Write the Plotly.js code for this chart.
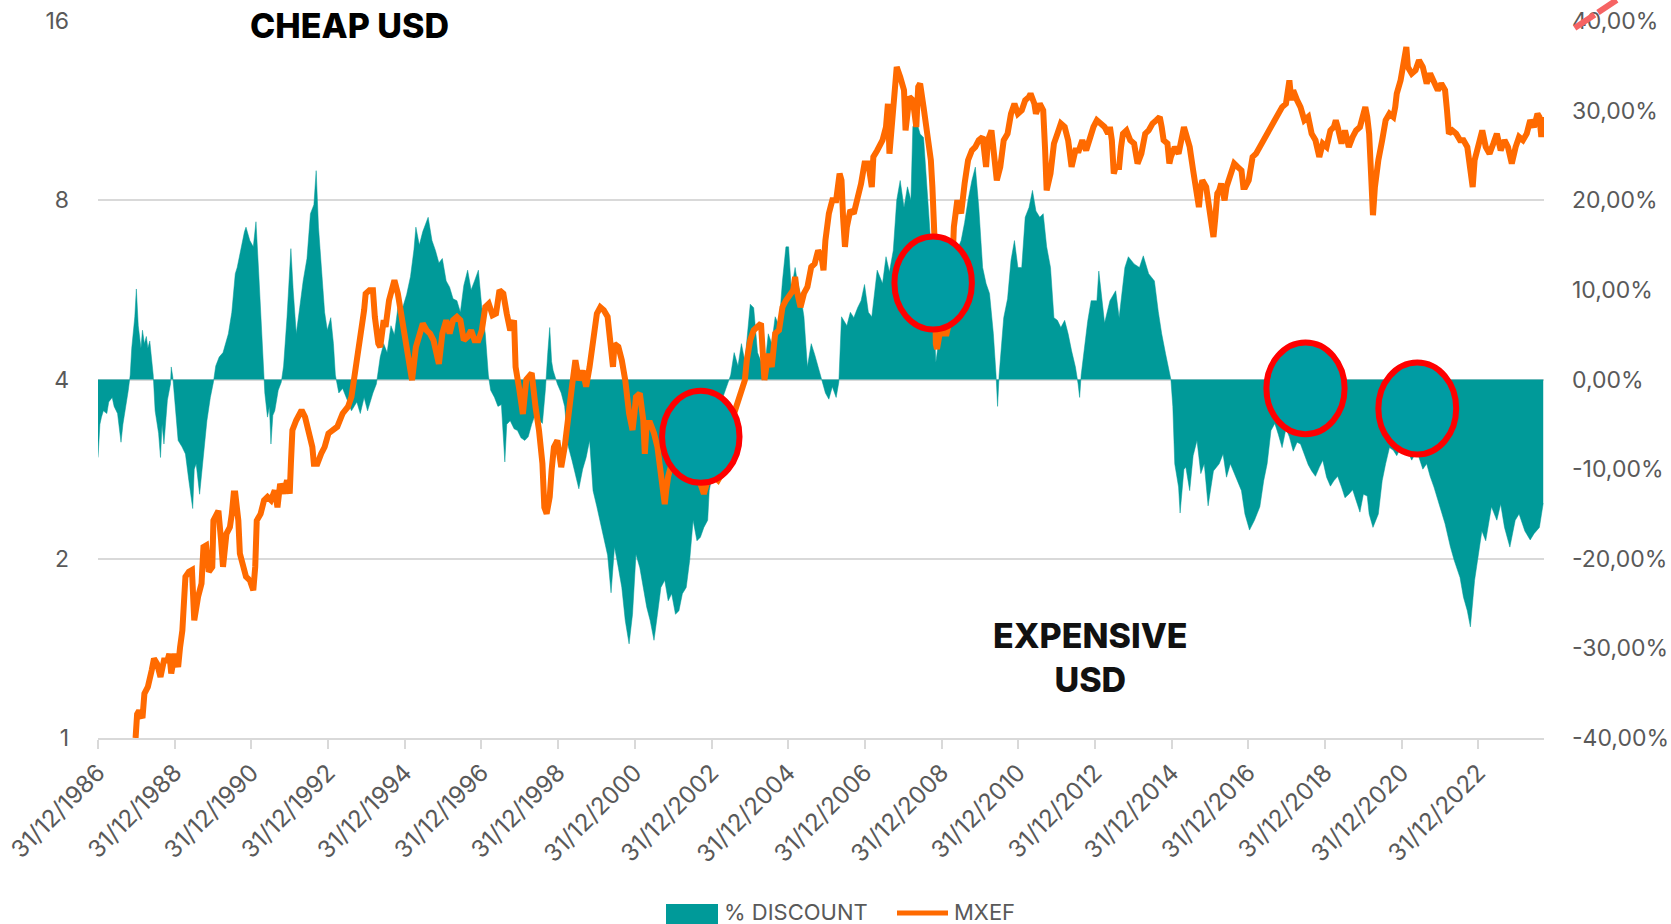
<!DOCTYPE html>
<html>
<head>
<meta charset="utf-8">
<script src="https://cdn.plot.ly/plotly-3.0.1.min.js"></script>
<style>html,body{margin:0;padding:0;background:#fff;}#chart{width:1671px;height:924px;}</style>
</head>
<body>
<div id="chart"></div>
<script>
// ---- Tick labels ----
const xTickYears = [1987,1989,1991,1993,1995,1997,1999,2001,2003,2005,2007,2009,2011,2013,2015,2017,2019,2021,2023];
const xTickLabels = ["31/12/1986","31/12/1988","31/12/1990","31/12/1992","31/12/1994","31/12/1996","31/12/1998","31/12/2000","31/12/2002","31/12/2004","31/12/2006","31/12/2008","31/12/2010","31/12/2012","31/12/2014","31/12/2016","31/12/2018","31/12/2020","31/12/2022"];
const leftTicks = [1,2,4,8,16];
const leftTickLabels = ["1","2","4","8","16"];
const rightTicks = [40,30,20,10,0,-10,-20,-30,-40];
const rightTickLabels = ["40,00%","30,00%","20,00%","10,00%","0,00%","-10,00%","-20,00%","-30,00%","-40,00%"];
const seriesNames = ["% DISCOUNT", "MXEF"];

// ---- % DISCOUNT (right axis, %) ----
const discountYears = [
1987.00,1987.05,1987.09,1987.14,1987.23,1987.28,1987.37,1987.42,1987.51,1987.60,1987.65,1987.70,1987.74,1987.79,1987.84,1987.88,1987.96,1988.00,1988.05,1988.12,
1988.16,1988.21,1988.26,1988.30,1988.35,1988.40,1988.44,1988.49,1988.58,1988.63,1988.67,1988.72,1988.81,1988.89,1988.91,1988.95,1989.00,1989.09,1989.19,1989.28,
1989.37,1989.47,1989.51,1989.56,1989.65,1989.75,1989.84,1989.93,1990.01,1990.07,1990.16,1990.26,1990.40,1990.49,1990.58,1990.63,1990.72,1990.82,1990.86,1990.96,
1991.05,1991.12,1991.19,1991.25,1991.31,1991.35,1991.42,1991.47,1991.51,1991.56,1991.61,1991.70,1991.78,1991.84,1991.93,1992.03,1992.09,1992.17,1992.26,1992.35,
1992.45,1992.54,1992.63,1992.69,1992.75,1992.82,1992.91,1992.98,1993.07,1993.14,1993.19,1993.28,1993.38,1993.52,1993.61,1993.75,1993.84,1993.94,1994.03,1994.17,
1994.26,1994.36,1994.45,1994.54,1994.64,1994.73,1994.82,1994.91,1995.05,1995.15,1995.24,1995.29,1995.38,1995.47,1995.57,1995.61,1995.71,1995.80,1995.89,1995.98,
1996.08,1996.17,1996.26,1996.36,1996.45,1996.54,1996.64,1996.73,1996.82,1996.92,1997.01,1997.10,1997.18,1997.24,1997.34,1997.43,1997.52,1997.61,1997.66,1997.75,
1997.85,1997.94,1998.03,1998.13,1998.22,1998.31,1998.41,1998.50,1998.59,1998.67,1998.73,1998.78,1998.83,1998.87,1998.98,1999.08,1999.17,1999.26,1999.36,1999.45,
1999.54,1999.64,1999.73,1999.82,1999.91,2000.01,2000.10,2000.19,2000.29,2000.38,2000.47,2000.57,2000.66,2000.75,2000.85,2000.94,2001.03,2001.13,2001.22,2001.31,
2001.40,2001.50,2001.59,2001.68,2001.78,2001.87,2001.96,2002.06,2002.15,2002.24,2002.34,2002.43,2002.52,2002.62,2002.71,2002.80,2002.90,2002.94,2002.99,2003.08,
2003.17,2003.27,2003.36,2003.45,2003.50,2003.59,2003.69,2003.78,2003.87,2004.01,2004.10,2004.20,2004.29,2004.38,2004.48,2004.57,2004.66,2004.76,2004.85,2004.94,
2005.01,2005.08,2005.18,2005.22,2005.32,2005.36,2005.41,2005.50,2005.60,2005.69,2005.78,2005.87,2005.97,2006.06,2006.15,2006.25,2006.32,2006.39,2006.53,2006.62,
2006.71,2006.81,2006.90,2006.99,2007.09,2007.18,2007.32,2007.46,2007.55,2007.64,2007.74,2007.83,2007.92,2008.02,2008.11,2008.20,2008.25,2008.34,2008.44,2008.53,
2008.62,2008.72,2008.79,2008.85,2008.95,2009.04,2009.13,2009.23,2009.32,2009.41,2009.51,2009.60,2009.69,2009.79,2009.88,2009.97,2010.07,2010.16,2010.25,2010.35,
2010.42,2010.46,2010.50,2010.62,2010.72,2010.81,2010.90,2010.99,2011.09,2011.18,2011.28,2011.37,2011.46,2011.56,2011.65,2011.74,2011.84,2011.93,2012.02,2012.11,
2012.21,2012.30,2012.39,2012.49,2012.56,2012.60,2012.64,2012.72,2012.81,2012.90,2013.05,2013.10,2013.25,2013.39,2013.54,2013.63,2013.78,2013.87,2014.02,2014.16,
2014.26,2014.40,2014.55,2014.65,2014.74,2014.84,2014.94,2014.98,2015.03,2015.08,2015.18,2015.22,2015.32,2015.37,2015.47,2015.56,2015.66,2015.76,2015.85,2015.95,
2016.09,2016.24,2016.34,2016.43,2016.53,2016.67,2016.82,2016.91,2017.03,2017.16,2017.30,2017.40,2017.49,2017.59,2017.69,2017.78,2017.88,2017.98,2018.07,2018.17,
2018.27,2018.36,2018.46,2018.56,2018.65,2018.75,2018.85,2018.94,2019.04,2019.14,2019.23,2019.33,2019.43,2019.52,2019.62,2019.72,2019.81,2019.91,2020.00,2020.10,
2020.15,2020.25,2020.39,2020.49,2020.58,2020.68,2020.78,2020.87,2020.97,2021.07,2021.26,2021.36,2021.45,2021.55,2021.65,2021.74,2021.84,2021.99,2022.13,2022.27,
2022.37,2022.52,2022.61,2022.71,2022.79,2022.90,2023.00,2023.09,2023.19,2023.34,2023.48,2023.58,2023.68,2023.82,2023.96,2024.06,2024.21,2024.35,2024.45,2024.59,
2024.69];
const discountValues = [
-8.7,-5.0,-4.2,-3.5,-3.8,-2.5,-2.0,-3.0,-3.8,-7.0,-5.0,-3.8,-2.5,-1.2,0.5,3.5,7.0,10.1,6.0,3.5,
5.5,4.0,4.8,3.5,4.3,2.5,0.5,-3.5,-6.0,-8.7,-5.0,-7.2,-2.3,-0.5,1.4,0.3,-2.3,-6.8,-7.5,-8.3,
-11.3,-14.4,-10.0,-9.4,-12.8,-8.3,-4.6,-2.0,-0.3,1.5,2.5,3.0,5.1,7.5,11.8,12.5,14.5,16.5,17.0,15.5,
14.8,17.6,12.0,7.0,1.5,-1.5,-4.2,-3.0,-7.2,-4.0,-3.5,-1.2,-0.3,1.5,7.0,14.6,10.0,5.1,8.0,11.0,
13.5,18.5,19.5,23.3,17.0,13.0,7.5,5.5,6.9,4.0,0.5,-1.5,-1.0,-2.5,-3.5,-2.5,-3.8,-2.0,-3.5,-1.5,
-0.5,2.5,4.0,3.0,6.0,5.0,8.0,7.5,9.5,11.5,14.5,17.0,15.0,16.5,17.5,18.1,15.5,14.4,13.0,13.5,
11.0,10.3,9.0,8.8,7.5,10.5,12.2,10.0,11.0,12.2,8.0,5.1,0.5,-1.2,-2.0,-3.0,-2.8,-9.2,-5.0,-4.6,
-5.5,-5.7,-6.5,-6.8,-6.4,-5.0,-3.8,-4.5,-4.9,-1.0,3.0,5.8,2.0,1.0,-0.5,-1.5,-3.0,-7.4,-9.0,-10.7,
-12.2,-10.0,-8.7,-6.8,-12.4,-14.2,-16.0,-17.8,-19.6,-23.8,-18.7,-21.0,-23.2,-26.9,-29.5,-26.2,-19.5,-21.0,-23.2,-25.4,
-26.9,-29.1,-26.2,-23.2,-22.4,-24.7,-23.9,-26.2,-25.8,-23.9,-23.2,-20.2,-15.7,-18.0,-17.6,-16.5,-15.7,-12.4,-11.3,-7.6,
-3.8,-2.3,-1.2,-0.3,0.5,3.0,1.5,4.0,2.0,8.4,8.0,3.0,2.0,1.0,5.1,4.0,7.0,6.0,11.0,14.8,
14.8,10.0,12.5,11.4,9.5,8.2,7.0,1.4,4.0,2.8,1.4,0.2,-1.5,-2.2,-0.8,-2.0,-0.3,7.0,6.0,7.5,
6.9,8.0,8.8,10.6,7.5,7.0,12.2,10.7,13.7,12.0,14.4,20.0,22.2,19.2,21.5,20.0,28.2,28.9,27.4,27.0,
21.5,15.0,8.0,1.9,5.1,6.5,8.8,10.5,13.3,14.5,15.5,17.5,20.0,22.2,23.7,19.2,12.5,10.7,9.6,5.1,
0.5,-3.0,0.5,6.9,9.0,13.3,15.5,12.5,12.5,18.1,19.2,21.1,18.8,18.1,18.5,14.8,12.5,6.9,6.6,5.8,
6.6,5.1,3.2,1.4,-0.5,-2.0,0.5,3.5,6.5,8.8,8.8,12.1,6.3,8.8,9.9,6.9,12.5,13.7,12.9,12.5,
13.8,11.8,11.0,7.6,5.1,2.9,1.0,0.0,-3.0,-9.4,-12.0,-14.9,-10.0,-9.8,-12.4,-8.5,-6.8,-10.5,-9.4,-14.1,
-10.2,-9.4,-8.3,-10.9,-9.4,-10.9,-12.4,-15.0,-16.8,-15.7,-14.2,-11.3,-9.4,-5.7,-4.9,-6.1,-7.6,-5.5,-6.4,-8.0,
-7.0,-7.2,-8.3,-9.5,-10.2,-10.8,-9.8,-9.0,-10.9,-11.9,-11.3,-10.8,-12.0,-13.2,-12.8,-12.3,-13.5,-14.8,-12.8,-13.0,
-15.0,-16.5,-15.0,-11.3,-9.4,-7.6,-7.9,-8.5,-7.6,-7.2,-9.0,-8.2,-8.7,-10.0,-9.4,-10.8,-12.0,-14.2,-16.1,-18.7,
-20.2,-22.1,-24.3,-25.8,-27.6,-22.4,-19.5,-16.9,-18.0,-14.2,-15.7,-13.9,-16.5,-18.7,-15.7,-15.0,-16.9,-17.9,-17.2,-16.5,
-13.8];

// ---- MXEF (left axis, log) ----
const mxefYears = [
1987.98,1988.02,1988.07,1988.16,1988.21,1988.30,1988.40,1988.46,1988.54,1988.63,1988.72,1988.81,1988.86,1988.91,1989.00,1989.09,1989.14,1989.20,1989.28,1989.37,
1989.45,1989.51,1989.61,1989.70,1989.75,1989.82,1989.89,1989.98,1990.01,1990.07,1990.14,1990.21,1990.26,1990.35,1990.44,1990.49,1990.54,1990.58,1990.66,1990.70,
1990.77,1990.86,1990.96,1991.05,1991.10,1991.14,1991.24,1991.33,1991.42,1991.51,1991.61,1991.68,1991.75,1991.84,1991.93,1992.00,1992.03,1992.07,1992.17,1992.31,
1992.40,1992.49,1992.59,1992.63,1992.72,1992.82,1992.91,1993.01,1993.14,1993.24,1993.38,1993.52,1993.61,1993.66,1993.75,1993.84,1993.94,1993.98,1994.08,1994.17,
1994.22,1994.31,1994.36,1994.45,1994.50,1994.59,1994.68,1994.73,1994.82,1994.91,1995.01,1995.10,1995.19,1995.29,1995.38,1995.47,1995.57,1995.66,1995.75,1995.85,
1995.89,1995.98,1996.08,1996.17,1996.26,1996.36,1996.45,1996.54,1996.64,1996.73,1996.82,1996.92,1997.01,1997.10,1997.19,1997.29,1997.38,1997.47,1997.57,1997.66,
1997.75,1997.85,1997.89,1997.99,1998.08,1998.17,1998.31,1998.41,1998.50,1998.59,1998.64,1998.70,1998.78,1998.83,1998.89,1998.98,1999.08,1999.17,1999.26,1999.36,
1999.45,1999.54,1999.64,1999.73,1999.82,1999.91,2000.01,2000.10,2000.19,2000.29,2000.33,2000.38,2000.43,2000.47,2000.57,2000.66,2000.75,2000.85,2000.94,2000.99,
2001.03,2001.13,2001.22,2001.26,2001.31,2001.40,2001.50,2001.59,2001.68,2001.78,2001.82,2001.87,2001.96,2002.06,2002.24,2002.43,2002.62,2002.80,2002.90,2002.99,
2003.17,2003.27,2003.36,2003.45,2003.59,2003.69,2003.78,2003.87,2003.92,2004.01,2004.10,2004.20,2004.29,2004.38,2004.48,2004.57,2004.66,2004.76,2004.85,2004.94,
2005.04,2005.13,2005.18,2005.22,2005.32,2005.41,2005.50,2005.60,2005.69,2005.78,2005.87,2005.92,2005.97,2006.06,2006.15,2006.25,2006.34,2006.39,2006.43,2006.48,
2006.53,2006.62,2006.71,2006.81,2006.90,2006.99,2007.09,2007.18,2007.22,2007.32,2007.46,2007.55,2007.60,2007.64,2007.74,2007.83,2007.92,2008.02,2008.06,2008.16,
2008.25,2008.34,2008.39,2008.44,2008.53,2008.62,2008.72,2008.76,2008.81,2008.85,2008.88,2008.95,2009.13,2009.23,2009.32,2009.41,2009.51,2009.60,2009.69,2009.79,
2009.88,2009.97,2010.07,2010.16,2010.21,2010.30,2010.39,2010.44,2010.53,2010.62,2010.72,2010.81,2010.90,2010.99,2011.09,2011.18,2011.28,2011.32,2011.42,2011.46,
2011.56,2011.65,2011.70,2011.74,2011.84,2011.93,2012.02,2012.11,2012.21,2012.30,2012.39,2012.49,2012.58,2012.67,2012.77,2012.86,2012.96,2013.05,2013.15,2013.25,
2013.34,2013.39,2013.44,2013.49,2013.54,2013.63,2013.68,2013.73,2013.82,2013.92,2014.02,2014.11,2014.21,2014.26,2014.31,2014.40,2014.50,2014.60,2014.69,2014.74,
2014.79,2014.89,2014.94,2014.98,2015.08,2015.18,2015.27,2015.32,2015.37,2015.47,2015.56,2015.66,2015.71,2015.76,2015.80,2015.90,2015.95,2016.00,2016.05,2016.09,
2016.14,2016.19,2016.24,2016.29,2016.34,2016.38,2016.43,2016.53,2016.63,2016.72,2016.82,2016.87,2016.92,2017.01,2017.11,2017.20,2017.30,2017.40,2017.49,2017.59,
2017.69,2017.78,2017.88,2017.98,2018.07,2018.12,2018.17,2018.27,2018.36,2018.46,2018.56,2018.65,2018.75,2018.85,2018.94,2019.04,2019.14,2019.23,2019.28,2019.33,
2019.43,2019.52,2019.62,2019.72,2019.81,2019.91,2020.00,2020.05,2020.10,2020.15,2020.20,2020.25,2020.30,2020.34,2020.39,2020.49,2020.58,2020.68,2020.78,2020.83,
2020.87,2020.97,2021.07,2021.12,2021.16,2021.26,2021.36,2021.45,2021.55,2021.65,2021.74,2021.84,2021.94,2022.03,2022.13,2022.18,2022.23,2022.32,2022.42,2022.52,
2022.61,2022.71,2022.81,2022.85,2022.90,2023.00,2023.10,2023.19,2023.29,2023.39,2023.48,2023.58,2023.68,2023.77,2023.87,2023.97,2024.06,2024.16,2024.26,2024.35,
2024.45,2024.54,2024.59,2024.64,2024.69];
const mxefValues = [
1.0,1.097,1.111,1.08,1.187,1.218,1.299,1.359,1.333,1.266,1.35,1.35,1.385,1.283,1.385,1.316,1.42,1.516,1.866,1.902,
1.915,1.576,1.726,1.818,2.092,2.105,1.902,1.938,2.318,2.378,2.408,2.146,1.938,2.203,2.26,2.378,2.573,2.573,2.318,2.04,
1.938,1.866,1.84,1.77,1.938,2.318,2.378,2.508,2.54,2.508,2.605,2.44,2.673,2.573,2.708,2.573,2.887,3.289,3.417,3.552,
3.461,3.289,3.081,2.887,2.887,3.003,3.081,3.247,3.289,3.332,3.508,3.6,3.74,3.94,4.197,4.655,5.228,5.575,5.65,5.65,
5.095,4.595,4.535,5.03,4.902,5.435,5.796,5.87,5.575,5.095,4.655,4.306,3.99,4.535,4.777,4.966,4.838,4.777,4.655,4.42,
4.25,4.777,5.03,4.777,5.03,5.095,5.03,4.655,4.715,4.838,4.655,4.655,4.838,5.294,5.363,5.128,5.161,5.65,5.575,5.161,
4.838,5.03,4.2,3.84,3.5,4.0,4.1,3.6,3.29,2.89,2.44,2.38,2.54,2.82,3.08,3.16,2.85,3.08,3.51,3.89,
4.31,3.99,4.14,3.89,4.2,4.59,5.16,5.29,5.23,5.1,4.78,4.48,4.2,4.59,4.54,4.31,3.99,3.51,3.29,3.51,
3.74,3.79,3.42,3.0,3.38,3.38,3.25,3.08,2.75,2.47,2.61,2.75,2.89,2.97,3.08,2.85,2.78,2.57,2.71,2.78,
2.71,2.78,2.89,3.08,3.51,3.69,3.89,3.99,4.31,4.66,4.84,4.9,4.97,3.99,4.42,4.2,4.78,4.84,5.29,5.43,
5.58,5.65,5.95,5.65,5.29,5.58,5.72,6.18,6.26,6.59,6.42,6.1,6.85,7.6,8.0,8.0,8.87,8.64,7.5,6.68,
7.22,7.7,7.6,8.0,8.53,9.22,9.22,8.42,9.46,9.7,10.09,10.62,11.62,9.58,11.78,13.39,12.89,12.24,10.48,11.93,
11.78,10.62,12.4,12.56,11.47,10.35,9.34,8.42,7.03,4.59,4.5,4.78,4.78,5.1,7.22,8.0,7.6,8.53,9.34,9.7,
9.83,10.09,10.22,9.1,10.09,10.48,9.46,8.64,9.1,10.09,10.35,11.18,11.62,11.18,11.33,11.78,11.93,12.08,11.62,11.18,
11.62,11.33,9.7,8.31,8.87,9.96,10.35,10.76,10.62,10.09,9.1,9.7,9.7,10.09,9.7,10.22,10.62,10.9,10.76,10.62,
10.35,10.62,10.09,8.87,9.1,9.1,9.83,10.35,10.48,10.09,9.96,9.22,9.58,10.09,10.35,10.48,10.76,10.9,11.04,10.62,
10.09,9.96,9.22,9.46,9.83,9.58,10.09,10.62,10.35,9.83,8.98,8.21,7.79,8.42,8.64,8.42,8.0,7.6,7.22,6.94,
7.5,8.21,8.31,8.53,8.21,8.0,8.42,8.87,9.22,9.1,8.98,8.42,8.42,8.64,9.46,9.58,9.83,10.09,10.35,10.62,
10.9,11.18,11.47,11.62,12.72,11.78,12.24,11.78,11.47,10.9,11.04,10.35,10.09,9.46,9.96,9.83,10.48,10.62,10.9,10.62,
9.96,10.48,9.83,10.22,10.48,10.62,11.33,11.47,11.04,10.35,8.87,7.55,8.42,8.87,9.34,10.09,10.9,11.18,11.04,11.47,
12.08,12.72,13.75,14.47,13.39,13.06,13.23,13.75,13.39,12.56,13.06,12.56,12.24,12.56,12.24,11.33,10.35,10.48,10.35,10.09,
10.09,9.83,8.64,8.42,9.34,9.83,10.48,9.83,9.58,9.96,10.35,9.7,10.09,9.83,9.22,9.83,10.22,10.09,10.35,10.9,
10.62,11.18,11.04,10.22,11.04];

// ---- highlighted zones (ellipses), in axis units: [x0, x1, y0(%), y1(%)] ----
const zoneX0 = [2001.71, 2007.77, 2017.47, 2020.39];
const zoneX1 = [2003.73, 2009.79, 2019.51, 2022.42];
const zoneY0 = [-11.53, 5.58, -6.10, -8.37];
const zoneY1 = [-1.26, 15.96, 4.13, 1.90];

const TEAL = '#009a99';
const ORANGE = '#ff6a00';
const GRID = '#d9d9d9';
const FONT = 'Inter, "Open Sans", sans-serif';

const traces = [
  {
    type: 'scatter', mode: 'lines', name: seriesNames[0], showlegend: false,
    x: discountYears, y: discountValues, xaxis: 'x', yaxis: 'y',
    fill: 'tozeroy', fillcolor: TEAL, line: {color: TEAL, width: 0.5}
  },
  {
    type: 'scatter', mode: 'lines', name: seriesNames[1], showlegend: false,
    x: mxefYears, y: mxefValues, xaxis: 'x', yaxis: 'y2',
    line: {color: ORANGE, width: 6}
  }
];

const shapes = zoneX0.map((x0, i) => ({
  type: 'circle', xref: 'x', yref: 'y', layer: 'above',
  x0: x0, x1: zoneX1[i], y0: zoneY0[i], y1: zoneY1[i],
  fillcolor: '#009ca3', line: {color: '#ff0000', width: 6}
}));
// red dashed stroke at the top-right corner
shapes.push({
  type: 'line', xref: 'paper', yref: 'paper',
  x0: 1.0212, y0: 0.9902, x1: 1.0503, y1: 1.0293,
  line: {color: '#f66464', width: 6, dash: '24px,4px'}
});
// legend keys (drawn below the chart)
shapes.push({
  type: 'rect', xref: 'paper', yref: 'paper', layer: 'above',
  x0: (666 - 98) / 1446, x1: (718 - 98) / 1446, y0: -(930 - 738) / 717, y1: -(904 - 738) / 717,
  fillcolor: TEAL, line: {width: 0}
});
shapes.push({
  type: 'line', xref: 'paper', yref: 'paper', layer: 'above',
  x0: (897 - 98) / 1446, x1: (948 - 98) / 1446, y0: -(913 - 738) / 717, y1: -(913 - 738) / 717,
  line: {color: ORANGE, width: 5}
});

const layout = {
  width: 1671, height: 924,
  margin: {l: 98, r: 127, t: 21, b: 186, pad: 0, autoexpand: false},
  paper_bgcolor: '#ffffff', plot_bgcolor: '#ffffff',
  font: {family: FONT, color: '#595959', size: 22},
  showlegend: false,
  xaxis: {
    type: 'linear', range: [1987.0, 2024.71], automargin: false,
    tickmode: 'array', tickvals: xTickYears, ticktext: xTickLabels, tickangle: -45,
    ticks: 'outside', ticklen: 9, tickwidth: 2, tickcolor: GRID,
    showline: true, linecolor: GRID, linewidth: 2,
    showgrid: false, zeroline: false,
    tickfont: {family: FONT, size: 24, color: '#595959'}
  },
  yaxis: {
    side: 'right', range: [-40, 40], automargin: false,
    tickmode: 'array', tickvals: rightTicks, ticktext: rightTickLabels,
    showgrid: false, zeroline: false, showline: false, ticks: '',
    ticklabelstandoff: 27,
    tickfont: {family: FONT, size: 23, color: '#595959'}
  },
  yaxis2: {
    overlaying: 'y', side: 'left', type: 'log', range: [0, Math.log10(16)], automargin: false,
    tickmode: 'array', tickvals: leftTicks, ticktext: leftTickLabels,
    showgrid: true, gridcolor: GRID, gridwidth: 2, zeroline: false, showline: false, ticks: '',
    ticklabelstandoff: 28,
    tickfont: {family: FONT, size: 23, color: '#595959'}
  },
  shapes: shapes,
  annotations: [
    {text: 'CHEAP USD', xref: 'paper', yref: 'paper', x: 0.174, y: 0.9944,
     xanchor: 'center', yanchor: 'middle', showarrow: false,
     font: {family: FONT, size: 34, color: '#000000', weight: 800}},
    {text: 'EXPENSIVE<br>USD', xref: 'paper', yref: 'paper', x: 0.6865, y: 0.1116,
     xanchor: 'center', yanchor: 'middle', showarrow: false, align: 'center',
     font: {family: FONT, size: 34, color: '#111111', weight: 800}},
    {text: seriesNames[0], xref: 'paper', yref: 'paper', x: (722 - 98) / 1446, y: -(912 - 738) / 717,
     xanchor: 'left', yanchor: 'middle', showarrow: false,
     font: {family: FONT, size: 22, color: '#595959'}},
    {text: seriesNames[1], xref: 'paper', yref: 'paper', x: (952 - 98) / 1446, y: -(912 - 738) / 717,
     xanchor: 'left', yanchor: 'middle', showarrow: false,
     font: {family: FONT, size: 22, color: '#595959'}}
  ]
};

Plotly.newPlot('chart', traces, layout, {staticPlot: true, displayModeBar: false});
</script>
</body>
</html>
